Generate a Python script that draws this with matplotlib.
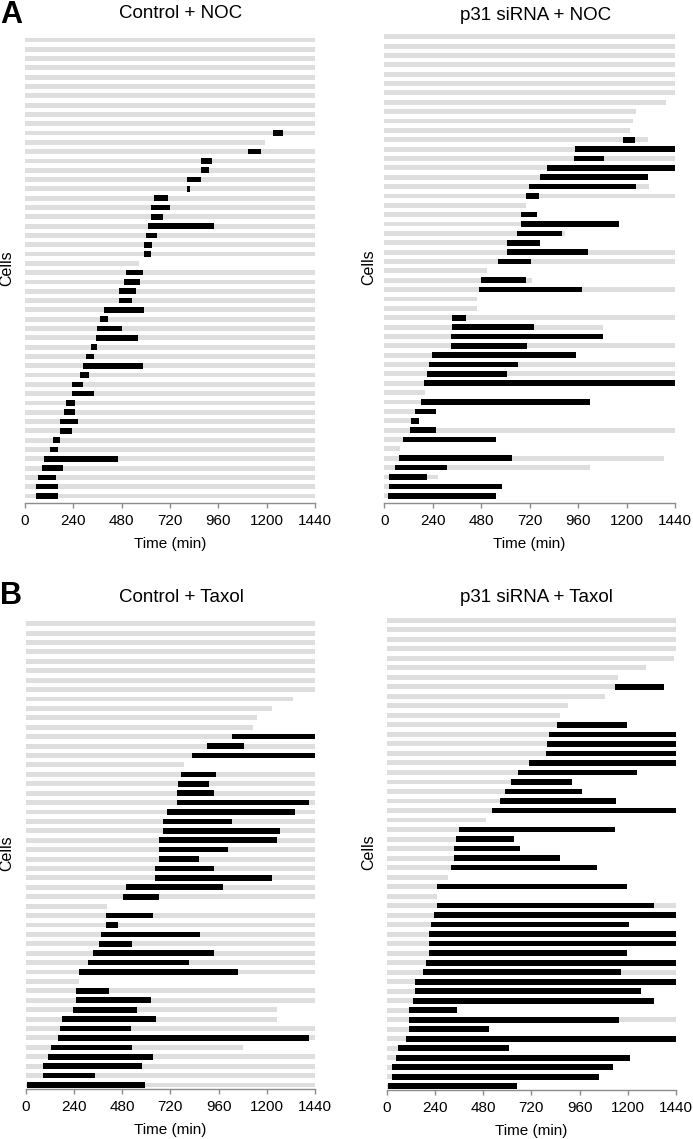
import numpy as np
import matplotlib
matplotlib.use("Agg")
import matplotlib.pyplot as plt

plt.rcParams['font.family'] = ['Liberation Sans', 'DejaVu Sans']

nan = np.nan
TICKS = [0, 240, 480, 720, 960, 1200, 1440]

# Rows listed top to bottom. obs = observed time (gray), start/end = mitosis (black)
ctrl_noc_obs = [1440, 1440, 1440, 1440, 1440, 1440, 1440, 1440, 1440, 1440,
                1440, 1192, 1440, 1440, 1440, 1440, 1440, 1440, 1440, 1440,
                1440, 1440, 1440, 1440, 568, 1440, 1440, 1440, 1440, 1440,
                1440, 1440, 1440, 1440, 1440, 1440, 1440, 1440, 1440, 1440,
                1440, 1440, 1440, 1440, 1440, 1440, 1440, 1440, 1440, 1440]
ctrl_noc_start = [nan, nan, nan, nan, nan, nan, nan, nan, nan, nan,
                  1233, nan, 1109, 874, 874, 804, 804, 640, 624, 624,
                  609, 601, 592, 592, nan, 500, 491, 468, 468, 391,
                  374, 359, 351, 328, 305, 288, 273, 233, 233, 204,
                  195, 172, 172, 141, 124, 94, 86, 63, 55, 55]
ctrl_noc_end = [nan, nan, nan, nan, nan, nan, nan, nan, nan, nan,
                1280, nan, 1172, 928, 914, 874, 819, 712, 718, 687,
                937, 655, 632, 624, nan, 584, 569, 553, 530, 592,
                414, 483, 561, 359, 343, 584, 319, 288, 343, 250,
                250, 265, 233, 172, 164, 460, 187, 156, 164, 164]

p31_noc_obs = [1440, 1440, 1440, 1440, 1440, 1440, 1440, 1395, 1246, 1230,
               1215, 1304, 1440, 1440, 1440, 1304, 1309, 1440, 703, 758,
               1164, 897, 773, 1440, 1440, 507, 733, 1440, 459, 459,
               1440, 1083, 1083, 1440, 951, 1440, 1440, 1440, 203, 1020,
               258, 173, 1440, 553, 79, 1387, 1020, 266, 584, 553]
p31_noc_start = [nan, nan, nan, nan, nan, nan, nan, nan, nan, nan,
                 nan, 1181, 947, 940, 806, 773, 718, 703, nan, 679,
                 679, 657, 609, 609, 563, nan, 477, 469, nan, nan,
                 337, 337, 329, 329, 236, 220, 211, 196, nan, 180,
                 150, 134, 125, 94, nan, 71, 54, 25, 25, 17]
p31_noc_end = [nan, nan, nan, nan, nan, nan, nan, nan, nan, nan,
               nan, 1244, 1440, 1086, 1440, 1304, 1247, 764, nan, 758,
               1164, 882, 773, 1010, 728, nan, 704, 977, nan, nan,
               406, 740, 1083, 708, 951, 664, 609, 1440, nan, 1020,
               258, 173, 258, 553, nan, 632, 312, 211, 584, 553]

ctrl_tax_obs = [1440, 1440, 1440, 1440, 1440, 1440, 1440, 1440, 1329, 1228,
                1150, 1133, 1440, 1440, 1440, 790, 1440, 1440, 1440, 1440,
                1440, 1440, 1440, 1440, 1440, 1440, 1440, 1440, 1440, 1440,
                406, 1440, 1440, 1440, 1440, 1440, 1440, 1440, 265, 1440,
                1440, 1251, 1251, 1440, 1440, 1080, 1440, 1440, 1440, 1440]
ctrl_tax_start = [nan, nan, nan, nan, nan, nan, nan, nan, nan, nan,
                  nan, nan, 1025, 901, 830, nan, 775, 760, 752, 752,
                  705, 682, 682, 665, 665, 665, 642, 642, 501, 486,
                  nan, 398, 398, 375, 367, 337, 312, 265, nan, 251,
                  251, 234, 179, 171, 163, 124, 109, 85, 85, 7]
ctrl_tax_end = [nan, nan, nan, nan, nan, nan, nan, nan, nan, nan,
                nan, nan, 1440, 1087, 1440, nan, 946, 914, 939, 1408,
                1339, 1025, 1268, 1251, 1009, 861, 939, 1228, 984, 665,
                nan, 634, 461, 868, 531, 939, 813, 1055, nan, 413,
                625, 554, 649, 523, 1408, 531, 634, 577, 343, 594]

p31_tax_obs = [1440, 1440, 1440, 1440, 1432, 1292, 1150, 1379, 1088, 901,
               863, 1198, 1440, 1440, 1440, 1440, 1246, 924, 971, 1143,
               1440, 493, 1135, 635, 665, 863, 1048, 305, 1196, 251,
               1440, 1440, 1204, 1440, 1440, 1196, 1440, 1440, 1440, 1267,
               1331, 352, 1440, 509, 1440, 610, 1213, 1126, 1057, 649]
p31_tax_start = [nan, nan, nan, nan, nan, nan, nan, 1136, nan, nan,
                 nan, 848, 808, 800, 791, 707, 652, 620, 589, 566,
                 526, nan, 362, 345, 337, 337, 322, nan, 251, nan,
                 251, 236, 219, 212, 212, 212, 196, 181, 141, 141,
                 133, 109, 109, 109, 95, 56, 48, 25, 25, 8]
p31_tax_end = [nan, nan, nan, nan, nan, nan, nan, 1379, nan, nan,
               nan, 1198, 1440, 1440, 1440, 1440, 1246, 924, 971, 1143,
               1440, nan, 1135, 635, 665, 863, 1048, nan, 1196, nan,
               1331, 1440, 1204, 1440, 1440, 1196, 1440, 1166, 1440, 1267,
               1331, 352, 1158, 509, 1440, 610, 1213, 1126, 1057, 649]

titles = ["Control + NOC", "p31 siRNA + NOC", "Control + Taxol", "p31 siRNA + Taxol"]

W, H = 693, 1139
fig = plt.figure(figsize=(W / 100, H / 100), dpi=100)

GRAY = '#dedede'
AXC = '#8c8c8c'

# (x0, x1, y_top_row, y_bottom_row, y_axis) in pixels
geoms = [(25, 315, 40, 496, 502.7),
         (384.3, 675, 36.7, 495.7, 503.3),
         (25.7, 315, 623.7, 1085, 1089.3),
         (386.7, 676, 620.3, 1086.3, 1090)]
datasets = [(ctrl_noc_obs, ctrl_noc_start, ctrl_noc_end),
            (p31_noc_obs, p31_noc_start, p31_noc_end),
            (ctrl_tax_obs, ctrl_tax_start, ctrl_tax_end),
            (p31_tax_obs, p31_tax_start, p31_tax_end)]
title_pos = [(181, 14), (536, 15), (181, 597), (536, 597)]
cells_x = [7, 369, 7, 369]

for k, ((x0, x1, yt, yb, ya), (obs, st, en)) in enumerate(zip(geoms, datasets)):
    n = len(obs)
    s = (yb - yt) / (n - 1)
    top_px = yt - 0.6 * s
    ax = fig.add_axes([x0 / W, 1 - ya / H, (x1 - x0) / W, (ya - top_px) / H])
    ypos = np.arange(n)[::-1]
    obs_a = np.array(obs, dtype=float)
    st_a = np.array(st, dtype=float)
    en_a = np.array(en, dtype=float)
    ax.barh(ypos, obs_a, left=0, height=0.52, color=GRAY, linewidth=0)
    m = ~np.isnan(st_a)
    ax.barh(ypos[m], en_a[m] - st_a[m], left=st_a[m], height=0.6,
            color='black', linewidth=0)
    ax.set_xlim(0, 1440)
    ax.set_ylim(-(ya - yb) / s, n - 1 + 0.6)
    for sp in ['top', 'right', 'left']:
        ax.spines[sp].set_visible(False)
    ax.spines['bottom'].set_color(AXC)
    ax.spines['bottom'].set_linewidth(1.0)
    ax.set_xticks(TICKS)
    ax.set_xticklabels([str(t) for t in TICKS])
    ax.tick_params(axis='x', colors=AXC, labelcolor='black', length=3.5,
                   width=1.0, labelsize=11, pad=4.5)
    ax.set_yticks([])
    ax.set_xlabel("Time (min)", fontsize=11, labelpad=6.5)
    # title
    tx, ty = title_pos[k]
    fig.text(tx / W, 1 - ty / H, titles[k], ha='center', va='center', fontsize=13.5)
    # Cells label
    fig.text(cells_x[k] / W, 1 - ((top_px + ya) / 2) / H, "Cells", rotation=90,
             ha='center', va='center', fontsize=11.5)

fig.text(0 / W, 1 - 15 / H, "A", ha='left', va='center', fontsize=22, fontweight='bold')
fig.text(0 / W, 1 - 596 / H, "B", ha='left', va='center', fontsize=22, fontweight='bold')

fig.savefig("out.png", dpi=100)
